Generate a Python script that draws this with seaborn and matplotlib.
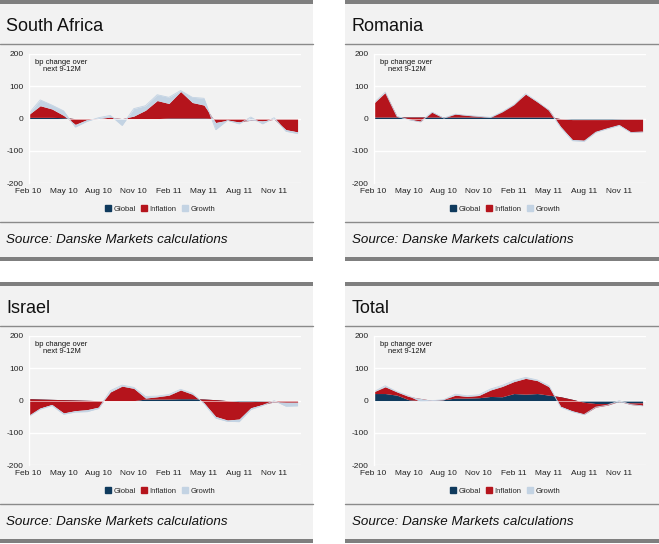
import numpy as np
import matplotlib
matplotlib.use("Agg")
import matplotlib.pyplot as plt
from matplotlib.patches import Rectangle, Patch
import seaborn as sns

sns.set_theme(style="white")
plt.rcParams["font.family"] = ["Liberation Sans", "DejaVu Sans"]

# months Feb 10 .. Jan 12
months = np.arange(24)
tick_pos = [0, 3, 6, 9, 12, 15, 18, 21]
tick_labels = ["Feb 10", "May 10", "Aug 10", "Nov 10", "Feb 11", "May 11", "Aug 11", "Nov 11"]
y_ticks = [-200, -100, 0, 100, 200]

sa_global = [4, 4, 4, 3, 0, 0, 0, 0, 0, 0, 0, 0, 2, 2, 2, 2, 0, 0, 0, 0, 0, 0, 0, 0]
sa_inflation = [8, 36, 26, 7, -18, -3, 0, 5, 0, 8, 26, 56, 45, 82, 48, 40, -12, -5, -10, -5, -7, -2, -34, -41]
sa_growth = [3, 18, 12, 14, -8, -5, 3, 5, -21, 23, 14, 18, 19, 3, 16, 21, -22, 0, -6, 10, -9, 5, -5, -5]

ro_global = [5, 5, 5, 5, 5, 5, 5, 5, 5, 5, 5, 5, 5, 5, 5, 5, 0, -3, -3, -3, -3, -2, -1, -1]
ro_inflation = [42, 76, 3, -7, -14, 16, -2, 10, 6, 3, 0, 17, 39, 71, 47, 22, -25, -62, -64, -37, -26, -17, -41, -39]
ro_growth = [1, 1, -1, -1, -1, -1, -1, -1, -1, -1, -1, -1, -1, 1, 1, -1, -2, -3, -3, -2, -2, -2, -1, -1]

il_global = [6, 5, 4, 3, 2, 1, 0, 0, 0, 0, 5, 5, 5, 6, 6, 5, 3, 0, -3, -3, -2, 0, 0, 0]
il_inflation = [-53, -28, -16, -41, -33, -29, -20, 27, 45, 38, 3, 7, 12, 27, 14, -12, -52, -60, -54, -19, -10, -4, -5, -5]
il_growth = [-2, -3, -3, -4, -4, -6, -4, 4, 3, 3, 5, 2, 2, 2, 3, -2, -5, -4, -8, -5, -3, 4, -12, -11]

tot_global = [22, 22, 17, 3, 0, 0, 3, 8, 8, 9, 13, 12, 22, 20, 22, 17, 12, 4, -5, -9, -9, -3, -7, -7]
tot_inflation = [5, 21, 10, 10, 7, 1, 1, 9, 5, 7, 20, 32, 37, 49, 40, 26, -30, -36, -37, -11, -5, 1, -5, -8]
tot_growth = [0, 3, 1, 2, -9, -1, -1, 3, 2, 2, 3, 3, 3, 3, 2, 3, -2, -2, -1, 0, 0, 2, 0, -1]

BLUE = "#0f3a5d"
RED = "#b5141c"
LIGHT = "#c3d3e3"
PANEL_BG = "#f2f2f2"
BAR = "#7f7f7f"
RULE = "#8a8a8a"

W, H = 659, 544
fig = plt.figure(figsize=(W / 100, H / 100), dpi=100)
fig.patch.set_facecolor("white")

bg = fig.add_axes([0, 0, 1, 1])
bg.set_xlim(0, W)
bg.set_ylim(H, 0)
bg.axis("off")

panels = [
    ("South Africa", 0, 0, sa_global, sa_inflation, sa_growth),
    ("Romania", 345, 0, ro_global, ro_inflation, ro_growth),
    ("Israel", 0, 282, il_global, il_inflation, il_growth),
    ("Total", 345, 282, tot_global, tot_inflation, tot_growth),
]

for title, x0, y0, g, inf, gr in panels:
    pw = 313 if x0 == 0 else 314

    # panel frame
    bg.add_patch(Rectangle((x0, y0), pw, 260, color=PANEL_BG, lw=0))
    bg.add_patch(Rectangle((x0, y0), pw, 3.5, color=BAR, lw=0))
    bg.add_patch(Rectangle((x0, y0 + 257), pw, 3.5, color=BAR, lw=0))
    bg.plot([x0, x0 + pw], [y0 + 43.5] * 2, color=RULE, lw=1)
    bg.plot([x0, x0 + pw], [y0 + 222] * 2, color=RULE, lw=1)
    bg.text(x0 + 6.5, y0 + 26.5, title, fontsize=13, va="center", ha="left", color="#111111")
    bg.text(x0 + 6.5, y0 + 240, "Source: Danske Markets calculations", fontsize=9.6,
            style="italic", va="center", ha="left", color="#111111")
    bg.text(x0 + 61.5, y0 + 66, "bp change over\nnext 9-12M", fontsize=5.4, ha="center",
            va="center", linespacing=1.15, color="#111111")

    # chart
    left = x0 + 28.5
    top = y0 + 54
    bottom = y0 + 183.3
    ax = fig.add_axes([left / W, 1 - bottom / H, 272 / W, (bottom - top) / H])
    ax.set_facecolor("none")

    c1 = np.array(g)
    c2 = c1 + np.array(inf)
    c3 = c2 + np.array(gr)
    ax.fill_between(months, 0, c1, color=BLUE, lw=0, zorder=2)
    ax.fill_between(months, c1, c2, color=RED, lw=0, zorder=2)
    ax.fill_between(months, c2, c3, color=LIGHT, lw=0, zorder=2)
    sns.lineplot(x=months, y=c3, color=LIGHT, lw=0.6, ax=ax, zorder=2)
    ax.axhline(0, color="white", lw=0.5, alpha=0.8, zorder=3)

    ax.set_xlim(0, 23.25)
    ax.set_ylim(-200, 200)
    ax.set_yticks(y_ticks)
    ax.set_yticklabels([str(v) for v in y_ticks])
    ax.set_xticks(tick_pos)
    ax.set_xticklabels(tick_labels)
    ax.tick_params(axis="both", length=0, labelsize=6, colors="#222222")
    ax.tick_params(axis="y", pad=3.5)
    ax.tick_params(axis="x", pad=3.5)
    ax.grid(axis="y", color="white", lw=1)
    ax.grid(axis="x", visible=False)
    sns.despine(ax=ax, top=True, right=True, bottom=True, left=False)
    ax.spines["left"].set_color("white")
    ax.spines["left"].set_linewidth(1)
    ax.set_xlabel("")
    ax.set_ylabel("")

    handles = [Patch(color=BLUE, label="Global"),
               Patch(color=RED, label="Inflation"),
               Patch(color=LIGHT, label="Growth")]
    fig.legend(handles=handles, loc="center", ncol=3, frameon=False, fontsize=5.5,
               bbox_to_anchor=((x0 + 160) / W, 1 - (y0 + 209) / H),
               handlelength=0.8, handleheight=0.8, handletextpad=0.3, columnspacing=0.7)

fig.savefig("out.png", dpi=100)
